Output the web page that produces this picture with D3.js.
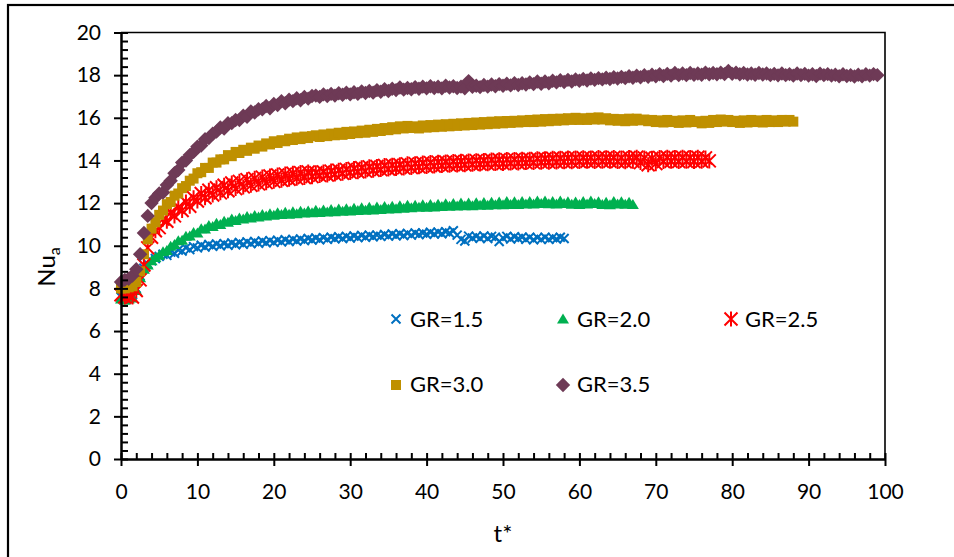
<!DOCTYPE html>
<html>
<head>
<meta charset="utf-8">
<script src="https://cdn.jsdelivr.net/npm/d3@7"></script>
<style>
  html, body { margin: 0; padding: 0; background: #fff; }
  svg { display: block; font-family: Lato, "Open Sans", sans-serif; }
</style>
</head>
<body>
<svg id="chart" width="954" height="557"></svg>
<script>
// Samples are recorded every 0.5 units of dimensionless time t*, starting at t* = 0
const tStep = 0.5;

// Average Nusselt number for each growth ratio (one value per sample)
const nuGR15 = [
  7.6, 7.6, 7.7, 7.7, 8.0, 8.6, 8.95, 9.15, 9.3, 9.4,
  9.5, 9.6, 9.55, 9.7, 9.65, 9.8, 9.75, 9.9, 9.82, 9.96,
  9.9, 10.02, 9.94, 10.06, 9.98, 10.08, 10.0, 10.1, 10.02, 10.13,
  10.05, 10.15, 10.07, 10.18, 10.1, 10.2, 10.12, 10.22, 10.14, 10.24,
  10.16, 10.26, 10.18, 10.28, 10.2, 10.3, 10.22, 10.32, 10.24, 10.34, 10.27,
  10.36, 10.28, 10.38, 10.3, 10.4, 10.33, 10.42, 10.34, 10.44, 10.36,
  10.46, 10.38, 10.48, 10.4, 10.5, 10.42, 10.5, 10.44, 10.53, 10.45,
  10.55, 10.47, 10.56, 10.48, 10.58, 10.5, 10.6, 10.52, 10.6, 10.54,
  10.63, 10.55, 10.64, 10.56, 10.66, 10.6, 10.7, 10.5, 10.3, 10.22,
  10.45, 10.36, 10.44, 10.35, 10.46, 10.34, 10.44, 10.4, 10.2, 10.36,
  10.44, 10.32, 10.42, 10.34, 10.4, 10.3, 10.4, 10.28, 10.38, 10.3,
  10.4, 10.3, 10.38, 10.32, 10.4, 10.34
];
const nuGR20 = [
  7.5, 7.45, 7.5, 7.55, 7.9, 8.5, 8.9, 9.1, 9.3, 9.45,
  9.55, 9.72, 9.78, 9.98, 10.06, 10.24, 10.26, 10.44, 10.46, 10.62,
  10.6, 10.8, 10.78, 10.95, 10.9, 11.05, 11.0, 11.15, 11.1, 11.25,
  11.18, 11.3, 11.26, 11.37, 11.3, 11.42, 11.35, 11.47, 11.4, 11.5,
  11.43, 11.55, 11.46, 11.57, 11.48, 11.6, 11.5, 11.62, 11.53, 11.63, 11.55,
  11.66, 11.56, 11.68, 11.58, 11.7, 11.6, 11.72, 11.62, 11.74, 11.63,
  11.76, 11.65, 11.78, 11.67, 11.8, 11.68, 11.82, 11.7, 11.84, 11.72,
  11.85, 11.74, 11.87, 11.76, 11.9, 11.78, 11.9, 11.8, 11.92, 11.81,
  11.94, 11.82, 11.95, 11.84, 11.97, 11.85, 11.98, 11.86, 12.0, 11.87,
  12.0, 11.88, 12.02, 11.9, 12.03, 11.9, 12.04, 11.92, 12.05, 11.92,
  12.07, 11.94, 12.06, 11.94, 12.08, 11.96, 12.08, 11.96, 12.1, 11.98,
  12.1, 11.97, 12.08, 11.96, 12.1, 11.98, 12.06, 11.95, 12.05, 11.93,
  12.08, 11.96, 12.1, 11.98, 12.06, 11.94, 12.04, 11.92, 12.08, 11.96,
  12.06, 11.95, 12.04, 11.94
];
const nuGR25 = [
  7.7, 7.6, 7.7, 7.6, 7.9, 8.4, 9.1, 9.9, 10.4, 10.7,
  10.85, 11.25, 11.15, 11.55, 11.4, 11.8, 11.65, 12.05, 11.85, 12.25,
  12.1, 12.45, 12.25, 12.6, 12.38, 12.72, 12.48, 12.84, 12.58, 12.94,
  12.68, 13.02, 12.76, 13.1, 12.84, 13.16, 12.9, 13.22, 12.96, 13.27,
  13.02, 13.32, 13.07, 13.36, 13.12, 13.4, 13.16, 13.43, 13.2, 13.46, 13.24,
  13.42, 13.3, 13.46, 13.32, 13.5, 13.36, 13.54, 13.4, 13.58, 13.44,
  13.62, 13.47, 13.66, 13.5, 13.7, 13.54, 13.72, 13.57, 13.76, 13.6,
  13.78, 13.62, 13.8, 13.65, 13.84, 13.67, 13.85, 13.7, 13.88, 13.72,
  13.9, 13.74, 13.92, 13.76, 13.93, 13.78, 13.95, 13.79, 13.96, 13.8,
  13.98, 13.82, 13.99, 13.83, 14.0, 13.84, 14.02, 13.86, 14.03, 13.86,
  14.04, 13.88, 14.05, 13.88, 14.06, 13.9, 14.06, 13.9, 14.08, 13.92,
  14.08, 13.92, 14.1, 13.93, 14.1, 13.94, 14.12, 13.94, 14.12, 13.95,
  14.13, 13.96, 14.12, 13.95, 14.14, 13.96, 14.13, 13.96, 14.14, 13.95,
  14.12, 13.94, 14.14, 13.96, 14.15, 13.9, 14.12, 13.8, 14.1, 13.85,
  14.14, 13.95, 14.15, 13.96, 14.14, 13.95, 14.15, 13.96, 14.14, 13.95,
  14.15, 13.96, 14.12, 13.98
];
const nuGR30 = [
  8.0, 8.0, 8.05, 8.1, 8.3, 8.8, 9.6, 10.3, 10.8, 11.1,
  11.45, 11.65, 11.95, 12.05, 12.35, 12.45, 12.7, 12.8, 13.05, 13.15,
  13.4, 13.45, 13.65, 13.65, 13.9, 13.9, 14.05, 14.05, 14.25, 14.2,
  14.4, 14.35, 14.5, 14.45, 14.6, 14.55, 14.7, 14.65, 14.8, 14.75,
  14.9, 14.82, 14.95, 14.9, 15.02, 14.96, 15.08, 15.0, 15.12, 15.05, 15.14,
  15.18, 15.1, 15.22, 15.14, 15.26, 15.18, 15.3, 15.2, 15.34, 15.24,
  15.36, 15.28, 15.4, 15.3, 15.44, 15.34, 15.48, 15.38, 15.52, 15.42,
  15.56, 15.46, 15.6, 15.5, 15.62, 15.52, 15.6, 15.5, 15.64, 15.54,
  15.66, 15.56, 15.68, 15.58, 15.7, 15.6, 15.72, 15.62, 15.74, 15.64,
  15.76, 15.66, 15.78, 15.68, 15.8, 15.7, 15.82, 15.72, 15.84, 15.74,
  15.85, 15.76, 15.86, 15.78, 15.88, 15.8, 15.9, 15.8, 15.92, 15.82,
  15.94, 15.84, 15.95, 15.86, 15.96, 15.88, 15.98, 15.9, 16.0, 15.9,
  15.98, 15.9, 16.0, 15.92, 16.02, 15.92, 15.98, 15.88, 15.95, 15.86,
  15.94, 15.84, 15.96, 15.86, 15.96, 15.88, 15.92, 15.84, 15.9, 15.8,
  15.88, 15.78, 15.9, 15.8, 15.86, 15.76, 15.88, 15.78, 15.9, 15.8,
  15.84, 15.74, 15.86, 15.76, 15.9, 15.8, 15.92, 15.82, 15.9, 15.8,
  15.86, 15.76, 15.88, 15.78, 15.9, 15.8, 15.88, 15.78, 15.9, 15.8,
  15.88, 15.8, 15.9, 15.82, 15.9, 15.82
];
const nuGR35 = [
  8.3, 8.4, 8.45, 8.6, 8.9, 9.6, 10.6, 11.4, 12.0, 12.25,
  12.45, 12.5, 12.85, 13.05, 13.4, 13.55, 13.9, 14.0, 14.25, 14.4,
  14.65, 14.7, 15.0, 15.05, 15.25, 15.35, 15.55, 15.5, 15.75, 15.75,
  15.9, 15.9, 16.1, 16.05, 16.3, 16.25, 16.4, 16.4, 16.55, 16.45,
  16.65, 16.6, 16.78, 16.68, 16.85, 16.78, 16.92, 16.82, 16.98, 16.9, 17.02,
  17.04, 16.98, 17.1, 17.02, 17.12, 17.04, 17.15, 17.08, 17.18, 17.1,
  17.2, 17.12, 17.24, 17.16, 17.26, 17.18, 17.3, 17.22, 17.34, 17.26,
  17.36, 17.3, 17.42, 17.32, 17.4, 17.34, 17.44, 17.36, 17.46, 17.38,
  17.48, 17.4, 17.46, 17.38, 17.5, 17.42, 17.48, 17.4, 17.46, 17.38,
  17.72, 17.45, 17.5, 17.44, 17.54, 17.46, 17.56, 17.48, 17.58, 17.5,
  17.6, 17.52, 17.62, 17.54, 17.62, 17.56, 17.66, 17.58, 17.7, 17.6,
  17.7, 17.62, 17.74, 17.66, 17.76, 17.68, 17.78, 17.7, 17.8, 17.74,
  17.82, 17.75, 17.84, 17.78, 17.86, 17.8, 17.88, 17.82, 17.9, 17.84,
  17.92, 17.86, 17.95, 17.88, 17.97, 17.9, 18.0, 17.92, 18.02, 17.95,
  18.04, 17.96, 18.06, 17.98, 18.1, 18.0, 18.08, 18.0, 18.1, 18.02,
  18.08, 18.02, 18.12, 18.04, 18.1, 18.04, 18.12, 18.05, 18.2, 18.06,
  18.12, 18.04, 18.1, 18.03, 18.08, 18.02, 18.1, 18.03, 18.08, 18.0,
  18.06, 17.99, 18.08, 18.0, 18.05, 17.98, 18.08, 18.0, 18.06, 17.98,
  18.04, 17.96, 18.07, 18.0, 18.05, 17.98, 18.02, 17.95, 18.04, 17.96,
  18.0, 17.94, 18.02, 17.95, 18.04, 17.98, 18.05, 18.0
];

const seriesNames = ["GR=1.5", "GR=2.0", "GR=2.5", "GR=3.0", "GR=3.5"];
const seriesValues = [nuGR15, nuGR20, nuGR25, nuGR30, nuGR35];
const seriesColors = ["#0070C0", "#00B050", "#FF0000", "#BF9000", "#6E3A56"];
const seriesMarkers = ["cross", "triangle", "star", "square", "diamond"];

const xTicks = [0, 10, 20, 30, 40, 50, 60, 70, 80, 90, 100];
const yTicks = [0, 2, 4, 6, 8, 10, 12, 14, 16, 18, 20];

// Layout
const svg = d3.select("#chart");
const plot = { left: 121, right: 885, top: 32.5, bottom: 459 };
const x = d3.scaleLinear().domain([0, 100]).range([plot.left, plot.right]);
const y = d3.scaleLinear().domain([0, 20]).range([plot.bottom, plot.top]);

// Chart frame
svg.append("rect")
  .attr("x", 8).attr("y", 5).attr("width", 1000).attr("height", 1000)
  .attr("fill", "none").attr("stroke", "#000").attr("stroke-width", 2.2);

// Plot area outline (top and right edges)
svg.append("path")
  .attr("d", `M${plot.left},${plot.top}H${plot.right}V${plot.bottom}`)
  .attr("fill", "none").attr("stroke", "#000").attr("stroke-width", 1.6);

// Marker drawing helpers
function markerPath(kind) {
  switch (kind) {
    case "cross": return "M-4.5,-4.5L4.5,4.5M-4.5,4.5L4.5,-4.5";
    case "triangle": return "M0,-5.5L6,4.5L-6,4.5Z";
    case "star": return "M-6.5,-6.5L6.5,6.5M-6.5,6.5L6.5,-6.5M0,-7.5L0,7.5";
    case "square": return "M-5,-5H5V5H-5Z";
    case "diamond": return "M0,-7.2L7.2,0L0,7.2L-7.2,0Z";
  }
}
function styleMarker(sel, kind, color) {
  const stroked = kind === "cross" || kind === "star";
  sel.attr("d", markerPath(kind))
    .attr("fill", stroked ? "none" : color)
    .attr("stroke", stroked ? color : "none")
    .attr("stroke-width", stroked ? 2 : 0)
    .attr("stroke-linecap", "butt");
}

// Data markers, one group per series
const series = seriesNames.map((name, i) => ({
  name,
  color: seriesColors[i],
  marker: seriesMarkers[i],
  points: seriesValues[i].map((v, j) => ({ t: j * tStep, nu: v }))
}));

const gSeries = svg.append("g").attr("class", "series");
series.forEach(s => {
  gSeries.append("g")
    .selectAll("path")
    .data(s.points)
    .join("path")
    .attr("transform", d => `translate(${x(d.t)},${y(d.nu)})`)
    .call(styleMarker, s.marker, s.color);
});

// Axes
const fontSize = 21;
const xMinor = d3.range(0, 101, 2);
const yMinor = d3.range(0, 20.01, 0.4).map(v => +v.toFixed(1));

// x axis: outward major ticks with labels, inward minor ticks
const gx = svg.append("g").attr("transform", `translate(0,${plot.bottom})`);
gx.call(d3.axisBottom(x).tickValues(xTicks).tickSize(7).tickSizeOuter(0).tickPadding(18));
gx.append("g").call(d3.axisBottom(x).tickValues(xMinor).tickSize(-6).tickSizeOuter(0).tickFormat(""));
gx.selectAll("path.domain").attr("stroke", "#000").attr("stroke-width", 2);
gx.selectAll(".tick line").attr("stroke", "#000").attr("stroke-width", 2);
gx.selectAll("text").attr("font-size", fontSize).attr("fill", "#000").attr("font-family", "Lato, sans-serif");

const gy = svg.append("g").attr("transform", `translate(${plot.left},0)`);
gy.call(d3.axisLeft(y).tickValues(yTicks).tickSize(7).tickSizeOuter(0).tickPadding(13));
gy.append("g").call(d3.axisLeft(y).tickValues(yMinor).tickSize(-7).tickSizeOuter(0).tickFormat(""));
gy.selectAll("path.domain").attr("stroke", "#000").attr("stroke-width", 2);
gy.selectAll(".tick line").attr("stroke", "#000").attr("stroke-width", 2);
gy.selectAll("text").attr("font-size", fontSize).attr("fill", "#000").attr("font-family", "Lato, sans-serif");

// Axis titles
svg.append("text")
  .attr("x", (plot.left + plot.right) / 2).attr("y", 542)
  .attr("text-anchor", "middle").attr("font-size", 24).attr("fill", "#000")
  .text("t*");

const yTitle = svg.append("text")
  .attr("transform", "translate(55,267) rotate(-90)")
  .attr("text-anchor", "middle").attr("font-size", 24).attr("fill", "#000");
yTitle.append("tspan").text("Nu");
yTitle.append("tspan").attr("font-size", 16).attr("dy", 5).text("a");

// Legend
const legendPos = [
  { mx: 396, my: 319, tx: 410, ty: 327 },
  { mx: 563, my: 319, tx: 577, ty: 327 },
  { mx: 731, my: 319, tx: 745, ty: 327 },
  { mx: 396, my: 385, tx: 410, ty: 392 },
  { mx: 563, my: 385, tx: 577, ty: 392 }
];
const gLegend = svg.append("g").attr("class", "legend");
series.forEach((s, i) => {
  const p = legendPos[i];
  gLegend.append("path")
    .attr("transform", `translate(${p.mx},${p.my})`)
    .call(styleMarker, s.marker, s.color);
  gLegend.append("text")
    .attr("x", p.tx).attr("y", p.ty)
    .attr("font-size", 22).attr("fill", "#000")
    .text(s.name);
});
</script>
</body>
</html>
